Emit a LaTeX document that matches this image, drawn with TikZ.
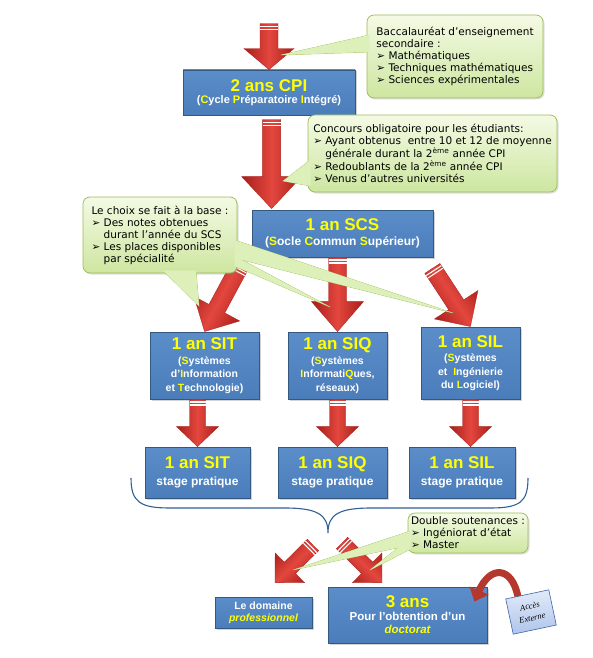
\documentclass[tikz,border=0pt]{standalone}
\usepackage{fontspec}
\setmainfont{Liberation Sans}
\newfontfamily\notefont{DejaVu Sans}
\newfontfamily\accesfont{Liberation Serif}
\usepackage{tikz}
\usetikzlibrary{calc,shadows,arrows.meta}

\definecolor{boxblue}{HTML}{4A7DBA}
\definecolor{boxtop}{HTML}{5B8DC9}
\definecolor{boxedge}{HTML}{35587F}
\definecolor{ttlyellow}{HTML}{FFFF00}
\definecolor{notetop}{HTML}{F4FAE4}
\definecolor{notebot}{HTML}{CDE6A0}
\definecolor{noteedge}{HTML}{9BBB59}
\definecolor{wedgegreen}{HTML}{DDF0BA}
\definecolor{arrowred}{HTML}{E3473E}
\definecolor{arrowdark}{HTML}{A81E1A}
\definecolor{bendred}{HTML}{B5382E}
\definecolor{bracecol}{HTML}{2F6096}
\definecolor{accestop}{HTML}{E2EAF8}
\definecolor{accesbot}{HTML}{AFC5EC}
\definecolor{accesedge}{HTML}{3D65A5}

\newcommand\hl[1]{\textcolor{ttlyellow}{#1}}
\newcommand\ttl[1]{{\fontsize{17}{17}\selectfont\hl{#1}}}
\newcommand\bul{➢\ }
\newcommand\bulsp{\phantom{➢\ }}

\tikzset{
  box/.style={draw=boxedge, line width=0.8, top color=boxtop, bottom color=boxblue,
    text=white, align=center, inner sep=2,
    drop shadow={opacity=0.35, shadow xshift=1.5pt, shadow yshift=-1.5pt}},
  note/.style={draw=noteedge, line width=0.7, rounded corners=7, top color=notetop,
    bottom color=notebot, align=left, inner sep=0,
    font=\notefont\fontsize{10.5}{12}\selectfont,
    drop shadow={opacity=0.25, shadow xshift=1.5pt, shadow yshift=-1.5pt}},
  wedge/.style={fill=wedgegreen, draw=noteedge, line width=0.6},
  arrowfill/.style={top color=arrowdark, bottom color=arrowdark, middle color=arrowred,
    draw=arrowdark, line width=0.3},
  bendarrow/.style={draw=bendred, line width=7, -{Triangle[length=12pt,width=20pt]}},
  acces/.style={draw=accesedge, line width=0.6, top color=accestop, bottom color=accesbot,
    minimum width=44, minimum height=36, align=center, inner sep=1,
    font=\accesfont\itshape\fontsize{8.5}{12}\selectfont}
}

% red block arrow: tail, tip, body half width, head half width, head length
\newcommand\redarrow[5]{%
  \path let \p1=($(#2)-(#1)$) in \pgfextra{%
    \pgfmathsetmacro\arang{atan2(\y1,\x1)}\xdef\arang{\arang}%
    \pgfmathsetmacro\arlen{veclen(\x1,\y1)}\xdef\arlen{\arlen}};
  \begin{scope}[shift={(#1)}, rotate=\arang]
    \draw[arrowfill, shading angle=\arang] (0,-#3) -- (\arlen-#5,-#3) -- (\arlen-#5,-#4)
      -- (\arlen,0) -- (\arlen-#5,#4) -- (\arlen-#5,#3) -- (0,#3) -- cycle;
    \draw[white, line width=1.1] (2.6,-#3) -- (2.6,#3) (5.6,-#3) -- (5.6,#3);
  \end{scope}}

% pointers of the green notes
\newcommand\notewedges[1]{%
  \path[#1] (369.5,35) -- (281,55) -- (369.5,52) -- cycle;
  \path[#1] (310.5,160) -- (283,181) -- (310.5,186) -- cycle;
  \path[#1] (163,270.5) -- (199,306) -- (196,270.5) -- cycle;
  \path[#1] (234.5,256) -- (330,307) -- (234.5,266) -- cycle;
  \path[#1] (234.5,240) -- (453,313) -- (234.5,258) -- cycle;
  \path[#1] (410.5,531) -- (293,570) -- (410.5,545) -- cycle;
  \path[#1] (410.5,538) -- (370,570) -- (410.5,549) -- cycle;}

\begin{document}
\begin{tikzpicture}[x=1pt, y=-1pt]
\useasboundingbox (0,0) rectangle (592,658);

% boxes
\node[box, minimum width=172, minimum height=45, font=\bfseries\fontsize{11}{12.5}\selectfont]
  (cpi) at (269,92.5) {\ttl{2 ans CPI}\\(\hl{C}ycle \hl{P}réparatoire \hl{I}ntégré)};
\node[box, minimum width=181, minimum height=47, font=\bfseries\fontsize{12}{14}\selectfont]
  (scs) at (342.5,233.5) {\ttl{1 an SCS}\\[1pt](\hl{S}ocle \hl{C}ommun \hl{S}upérieur)};
\node[box, minimum width=109, minimum height=67, font=\bfseries\fontsize{10.5}{13.5}\selectfont]
  (sit) at (204.5,365.5) {\ttl{1 an SIT}\\[1pt](\hl{S}ystèmes\\d’\hl{I}nformation\\et \hl{T}echnologie)};
\node[box, minimum width=99, minimum height=67, font=\bfseries\fontsize{10.5}{13.5}\selectfont]
  (siq) at (337.5,365.5) {\ttl{1 an SIQ}\\[1pt](\hl{S}ystèmes\\\hl{I}nformati\hl{Q}ues,\\réseaux)};
\node[box, minimum width=99, minimum height=72, font=\bfseries\fontsize{10.5}{13.5}\selectfont]
  (sil) at (470.5,363) {\ttl{1 an SIL}\\[1pt](\hl{S}ystèmes\\et\ \ \hl{I}ngénierie\\du \hl{L}ogiciel)};
\node[box, minimum width=105, minimum height=51, font=\bfseries\fontsize{12}{14}\selectfont]
  (sitstage) at (197.5,472.5) {\ttl{1 an SIT}\\[3pt]stage pratique};
\node[box, minimum width=109, minimum height=51, font=\bfseries\fontsize{12}{14}\selectfont]
  (siqstage) at (332.5,472.5) {\ttl{1 an SIQ}\\[3pt]stage pratique};
\node[box, minimum width=106, minimum height=51, font=\bfseries\fontsize{12}{14}\selectfont]
  (silstage) at (462,472.5) {\ttl{1 an SIL}\\[3pt]stage pratique};
\node[box, minimum width=97, minimum height=31, font=\bfseries\fontsize{10.5}{12}\selectfont]
  (pro) at (263.5,612.5) {Le domaine\\\hl{\itshape professionnel}};
\node[box, minimum width=159, minimum height=56, font=\bfseries\fontsize{11.5}{13}\selectfont]
  (doct) at (407.5,615) {\ttl{3 ans}\\Pour l’obtention d’un\\\hl{\itshape doctorat}};

% arrows
\coordinate (a1) at ($(cpi.north)+(0,-46)$);
\coordinate (scsin) at ($(scs.north west)+(20,-1)$);
\coordinate (a2) at ($(scsin)+(0,-89)$);
\coordinate (a3) at ($(scs.south west)+(-12,9)$);
\coordinate (a4) at (siq.north |- scs.south);
\coordinate (a5) at ($(scs.south east)+(-1,11)$);
\coordinate (a6) at (sitstage.north |- sit.south);
\coordinate (bracetip) at (328,533);
\coordinate (a9) at ($(bracetip)+(-15,12)$);
\coordinate (a10) at ($(bracetip)+(14,10)$);
\redarrow{a1}{cpi.north}{9}{25}{21}
\redarrow{a2}{scsin}{9}{30}{32}
\redarrow{a3}{sit.north}{9}{26}{26}
\redarrow{a4}{siq.north}{9}{26}{30}
\redarrow{a5}{sil.north}{9}{26}{26}
\redarrow{a6}{sitstage.north}{8}{21}{20}
\redarrow{siq.south}{siq.south |- siqstage.north}{8}{21}{20}
\redarrow{sil.south}{sil.south |- silstage.north}{8}{21}{20}
\redarrow{a9}{$(pro.north)+(11.5,-14)$}{8}{21}{21}
\redarrow{a10}{$(doct.north)+(-25.5,-4)$}{8}{21}{21}

% brace
\draw[bracecol, line width=1.1] (131,478) .. controls (131,502) and (140,508) .. (170,508)
  -- (285,508) .. controls (318,508) and (328,515) .. (bracetip)
  .. controls (328,515) and (338,508) .. (371,508) -- (490,508)
  .. controls (520,508) and (528,502) .. (528,478);

% external access
\draw[bendarrow] (518,597) .. controls (512,566) and (490,565) .. ($(doct.north east)+(-13,15)$);
\node[acces, rotate=12] (acces) at (531,612) {Accès\\Externe};

% notes
\notewedges{wedge}
\node[note, minimum width=176, minimum height=83] (bac) at (455,56.5)
  {Baccalauréat d’enseignement\\secondaire :\\\bul Mathématiques\\\bul Techniques mathématiques\\\bul Sciences expérimentales};
\node[note, minimum width=249, minimum height=77] (concours) at (432.5,153.5)
  {Concours obligatoire pour les étudiants:\\\bul Ayant obtenus\ \ entre 10 et 12 de moyenne\\\bulsp générale durant la 2\textsuperscript{ème} année CPI\\\bul Redoublants de la 2\textsuperscript{ème} année CPI\\\bul Venus d’autres universités};
\node[note, minimum width=154, minimum height=76] (choix) at (160,235)
  {Le choix se fait à la base :\\\bul Des notes obtenues\\\bulsp durant l’année du SCS\\\bul Les places disponibles\\\bulsp par spécialité};
\node[note, minimum width=120, minimum height=40] (soutenance) at (468,533)
  {Double soutenances :\\\bul Ingéniorat d’état\\\bul Master};
\notewedges{fill=wedgegreen}
\end{tikzpicture}
\end{document}
